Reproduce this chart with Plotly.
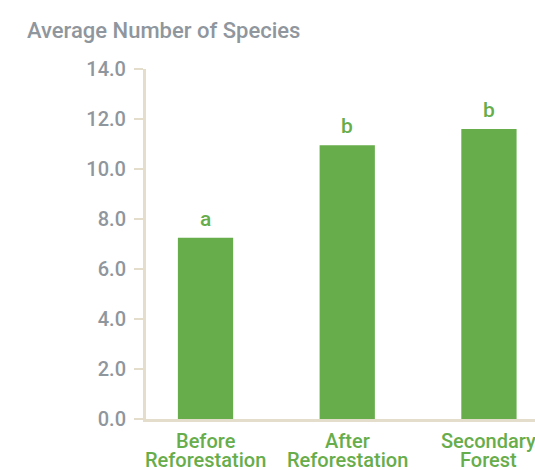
import plotly.graph_objects as go

categories = ["Before<br>Reforestation", "After<br>Reforestation", "Secondary<br>Forest"]
values = [7.25, 10.95, 11.6]
letters = ["a", "b", "b"]
y_ticks = [0, 2, 4, 6, 8, 10, 12, 14]

GREEN = "#67ad4b"
GRAY = "#8f969d"
BEIGE = "#e5ddcb"
FONT = "Roboto"

fig = go.Figure()
fig.add_trace(go.Bar(
    x=list(range(len(categories))), y=values,
    marker=dict(color=GREEN, line=dict(width=0)),
    width=0.39,
    hoverinfo="skip",
))

for i, (v, t) in enumerate(zip(values, letters)):
    fig.add_annotation(
        x=i, y=v, text=t, showarrow=False, xref="x", yref="y",
        yanchor="bottom", yshift=5,
        font=dict(family=FONT, size=21, color=GREEN, weight=500),
    )

# two-line category labels under the axis
for i, label in enumerate(categories):
    for j, line in enumerate(label.split("<br>")):
        fig.add_annotation(
            x=i, y=0, text=line, showarrow=False, xref="x", yref="y",
            yanchor="middle", yshift=-22 - 18.5 * j,
            font=dict(family=FONT, size=20, color=GREEN, weight=500),
        )

fig.update_layout(
    width=535, height=470,
    margin=dict(l=146, r=0, t=69, b=51),
    paper_bgcolor="white", plot_bgcolor="white",
    showlegend=False,
    font=dict(family=FONT),
    title=dict(
        text="Average Number of Species",
        x=27 / 535, xref="container", xanchor="left",
        y=1 - 30 / 470, yref="container", yanchor="middle",
        font=dict(family=FONT, size=22, color=GRAY, weight=500),
    ),
    xaxis=dict(
        range=[-0.42, 2.325], automargin=False,
        showticklabels=False,
        showgrid=False, zeroline=False,
        showline=True, linecolor=BEIGE, linewidth=3,
        ticks="",
        fixedrange=True,
    ),
    yaxis=dict(
        range=[0, 14], automargin=False,
        tickmode="array", tickvals=y_ticks, ticktext=[f"{v:.1f}" for v in y_ticks],
        showgrid=False, zeroline=False,
        showline=True, linecolor=BEIGE, linewidth=3,
        ticks="outside", ticklen=9, tickwidth=2, tickcolor=BEIGE,
        ticklabelstandoff=4,
        tickfont=dict(family=FONT, size=20, color=GRAY, weight=500),
        fixedrange=True,
    ),
)

fig.write_html(
    "out.html",
    config={"displayModeBar": False, "staticPlot": True},
    post_script="document.body.style.margin='0';document.body.style.overflow='hidden';",
)
